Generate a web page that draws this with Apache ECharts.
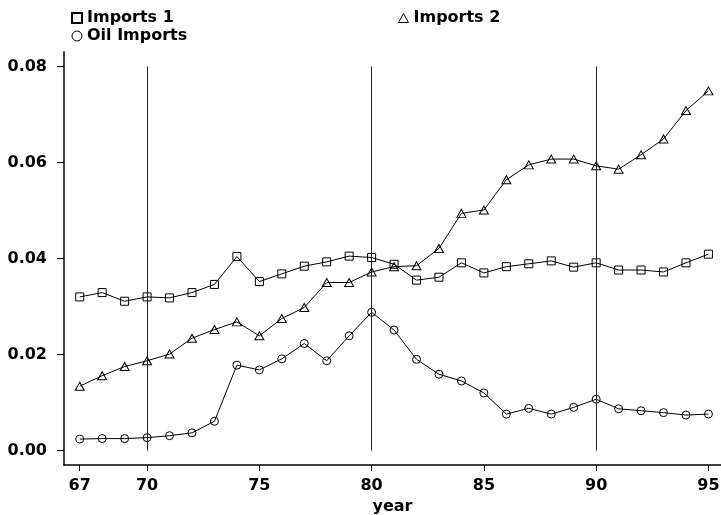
<!DOCTYPE html>
<html>
<head>
<meta charset="utf-8">
<script src="https://cdn.jsdelivr.net/npm/echarts@6/dist/echarts.min.js"></script>
<style>
html,body{margin:0;padding:0;background:#fff;}
#chart{width:721px;height:515px;}
</style>
</head>
<body>
<div id="chart"></div>
<script>
const years = [67,68,69,70,71,72,73,74,75,76,77,78,79,80,81,82,83,84,85,86,87,88,89,90,91,92,93,94,95];
const imports1 = [0.0320,0.0329,0.0311,0.0320,0.0318,0.0329,0.0346,0.0404,0.0352,0.0368,0.0384,0.0393,0.0405,0.0402,0.0388,0.0355,0.0361,0.0391,0.0370,0.0383,0.0389,0.0395,0.0382,0.0391,0.0376,0.0376,0.0372,0.0391,0.0409];
const imports2 = [0.0134,0.0156,0.0175,0.0187,0.0201,0.0234,0.0252,0.0268,0.0239,0.0275,0.0298,0.0350,0.0350,0.0372,0.0383,0.0385,0.0421,0.0494,0.0501,0.0564,0.0595,0.0607,0.0607,0.0593,0.0586,0.0616,0.0649,0.0708,0.0749];
const oilImports = [0.0024,0.0025,0.0025,0.0027,0.0031,0.0037,0.0061,0.0178,0.0168,0.0191,0.0223,0.0187,0.0239,0.0288,0.0251,0.0190,0.0159,0.0145,0.0120,0.0076,0.0088,0.0076,0.0090,0.0107,0.0087,0.0083,0.0079,0.0074,0.0076];
const refYears = [70,80,90];
const refRange = [0, 0.08];
const xTicks = [67,70,75,80,85,90,95];
const yTicks = [0,0.02,0.04,0.06,0.08];

const FONT = '"DejaVu Sans", "Liberation Sans", Arial, sans-serif';
const toPts = arr => years.map((y,i)=>[y, arr[i]]);
const markerStyle = {color:'rgba(255,255,255,0)', borderColor:'#000', borderWidth:1};
const txt = {fontFamily:FONT, fontSize:16, fontWeight:'bold', color:'#000'};

const chart = echarts.init(document.getElementById('chart'), null, {renderer:'canvas'});
chart.setOption({
  animation:false,
  backgroundColor:'#fff',
  grid:{left:64, right:0, top:52, bottom:50, containLabel:false, outerBoundsMode:'none'},
  legend:[
    {left:66, top:5, orient:'vertical', itemGap:2, itemWidth:10, itemHeight:10,
     textStyle:txt,
     data:[
       {name:'Imports 1', icon:'rect', itemStyle:{color:'#fff', borderColor:'#000', borderWidth:2}},
       {name:'Oil Imports', icon:'circle', itemStyle:{color:'#fff', borderColor:'#000', borderWidth:1}}
     ]},
    {left:393, top:5, itemWidth:10, itemHeight:9,
     textStyle:txt,
     data:[{name:'Imports 2', icon:'triangle', itemStyle:{color:'#fff', borderColor:'#000', borderWidth:1}}]}
  ],
  xAxis:{
    type:'value', min:66.3, max:95.56,
    name:'year', nameLocation:'middle', nameGap:27,
    nameTextStyle:txt,
    axisLine:{show:true, onZero:false, lineStyle:{color:'#000', width:1.5}},
    axisTick:{show:true, length:6, customValues:xTicks, lineStyle:{color:'#000'}},
    axisLabel:Object.assign({margin:13, customValues:xTicks}, txt),
    splitLine:{show:false}
  },
  yAxis:{
    type:'value', min:-0.003, max:0.083,
    axisLine:{show:true, onZero:false, lineStyle:{color:'#000', width:1.5}},
    axisTick:{show:true, length:7, customValues:yTicks, lineStyle:{color:'#000'}},
    axisLabel:Object.assign({margin:17, customValues:yTicks, formatter:v=>v.toFixed(2)}, txt),
    splitLine:{show:false}
  },
  series:[
    {name:'Imports 1', type:'line', data:toPts(imports1), symbol:'rect', symbolSize:8,
     lineStyle:{color:'#000', width:1}, itemStyle:markerStyle, z:3,
     markLine:{silent:true, symbol:'none', label:{show:false},
       lineStyle:{color:'#222', width:1, type:'solid'},
       data:refYears.map(y=>[{coord:[y, refRange[0]]},{coord:[y, refRange[1]]}])}},
    {name:'Imports 2', type:'line', data:toPts(imports2), symbol:'triangle', symbolSize:[9,8],
     lineStyle:{color:'#000', width:1}, itemStyle:markerStyle, z:3},
    {name:'Oil Imports', type:'line', data:toPts(oilImports), symbol:'circle', symbolSize:8,
     lineStyle:{color:'#000', width:1}, itemStyle:markerStyle, z:3}
  ]
});
</script>
</body>
</html>
